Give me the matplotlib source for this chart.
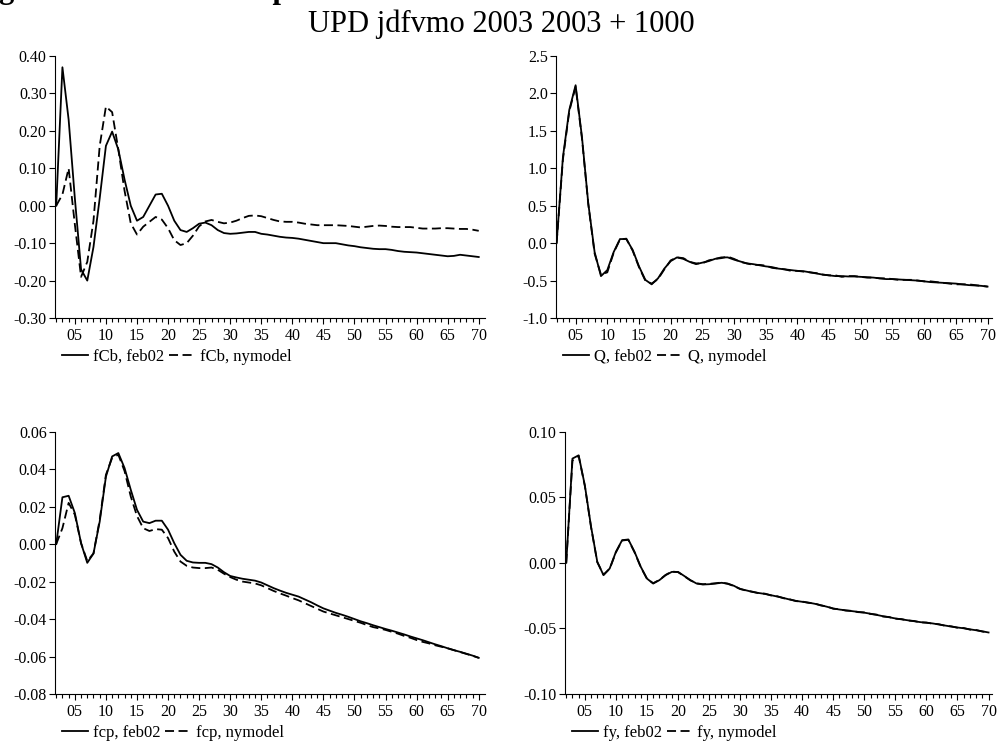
import matplotlib
matplotlib.use("Agg")
import matplotlib.pyplot as plt
from matplotlib.ticker import MultipleLocator, FixedLocator, FuncFormatter

plt.rcParams["font.family"] = ["Liberation Serif", "DejaVu Serif"]
plt.rcParams["axes.unicode_minus"] = False

periods = list(range(2, 71))

fcb_feb02 = [
    0.000, 0.370, 0.230, 0.020, -0.170, -0.200, -0.110, 0.020, 0.160, 0.198,
    0.150, 0.070, 0.000, -0.040, -0.030, 0.000, 0.030, 0.032, 0.000, -0.040,
    -0.065, -0.070, -0.060, -0.048, -0.045, -0.052, -0.065, -0.073, -0.075, -0.074,
    -0.072, -0.070, -0.070, -0.075, -0.077, -0.080, -0.083, -0.085, -0.086, -0.088,
    -0.091, -0.094, -0.097, -0.100, -0.100, -0.100, -0.103, -0.106, -0.108, -0.111,
    -0.113, -0.115, -0.116, -0.116, -0.118, -0.121, -0.123, -0.124, -0.125, -0.127,
    -0.129, -0.131, -0.133, -0.135, -0.134, -0.131, -0.133, -0.135, -0.137,
]
fcb_nymodel = [
    0.000, 0.030, 0.100, -0.050, -0.190, -0.150, -0.040, 0.160, 0.265, 0.250,
    0.150, 0.040, -0.047, -0.077, -0.056, -0.043, -0.030, -0.037, -0.060, -0.092,
    -0.105, -0.100, -0.080, -0.055, -0.042, -0.038, -0.043, -0.047, -0.045, -0.040,
    -0.033, -0.027, -0.026, -0.028, -0.033, -0.038, -0.042, -0.043, -0.043, -0.045,
    -0.048, -0.050, -0.052, -0.052, -0.052, -0.052, -0.053, -0.054, -0.056, -0.058,
    -0.056, -0.054, -0.053, -0.054, -0.056, -0.057, -0.057, -0.057, -0.059, -0.061,
    -0.061, -0.061, -0.060, -0.060, -0.061, -0.062, -0.062, -0.064, -0.067,
]

q_feb02 = [
    0.00, 1.15, 1.78, 2.11, 1.42, 0.53, -0.12, -0.44, -0.36, -0.12,
    0.055, 0.055, -0.09, -0.31, -0.49, -0.55, -0.47, -0.34, -0.24, -0.19,
    -0.21, -0.25, -0.28, -0.26, -0.24, -0.21, -0.19, -0.19, -0.22, -0.245,
    -0.27, -0.28, -0.295, -0.31, -0.32, -0.34, -0.35, -0.36, -0.37, -0.375,
    -0.39, -0.405, -0.42, -0.43, -0.44, -0.44, -0.445, -0.445, -0.45, -0.455,
    -0.46, -0.47, -0.48, -0.48, -0.485, -0.49, -0.495, -0.50, -0.51, -0.52,
    -0.525, -0.53, -0.535, -0.54, -0.55, -0.56, -0.565, -0.57, -0.58,
]
q_nymodel = [
    0.00, 1.12, 1.76, 2.09, 1.40, 0.52, -0.14, -0.42, -0.39, -0.13,
    0.050, 0.060, -0.10, -0.32, -0.50, -0.54, -0.48, -0.35, -0.23, -0.19,
    -0.20, -0.25, -0.27, -0.27, -0.23, -0.21, -0.20, -0.18, -0.21, -0.25,
    -0.27, -0.29, -0.29, -0.30, -0.33, -0.34, -0.35, -0.37, -0.37, -0.38,
    -0.39, -0.40, -0.42, -0.43, -0.43, -0.45, -0.44, -0.44, -0.45, -0.46,
    -0.46, -0.47, -0.47, -0.48, -0.49, -0.49, -0.49, -0.50, -0.51, -0.51,
    -0.52, -0.53, -0.54, -0.55, -0.55, -0.55, -0.56, -0.57, -0.58,
]

fcp_feb02 = [
    0.0000, 0.0250, 0.0258, 0.0166, 0.0005, -0.0100, -0.0050, 0.0120, 0.0360, 0.0468,
    0.0486, 0.0406, 0.0290, 0.0183, 0.0120, 0.0112, 0.0125, 0.0125, 0.0077, 0.0005,
    -0.0057, -0.0089, -0.0098, -0.0100, -0.0100, -0.0107, -0.0125, -0.0150, -0.0170, -0.0178,
    -0.0185, -0.0190, -0.0195, -0.0205, -0.0220, -0.0235, -0.0248, -0.0260, -0.0270, -0.0280,
    -0.0295, -0.0310, -0.0327, -0.0343, -0.0355, -0.0367, -0.0377, -0.0388, -0.0400, -0.0412,
    -0.0422, -0.0433, -0.0443, -0.0453, -0.0462, -0.0472, -0.0482, -0.0493, -0.0503, -0.0513,
    -0.0524, -0.0535, -0.0545, -0.0556, -0.0566, -0.0575, -0.0585, -0.0595, -0.0607,
]
fcp_nymodel = [
    0.0000, 0.0085, 0.0220, 0.0157, 0.0005, -0.0090, -0.0050, 0.0130, 0.0370, 0.0460,
    0.0477, 0.0390, 0.0254, 0.0150, 0.0085, 0.0070, 0.0080, 0.0077, 0.0032, -0.0040,
    -0.0093, -0.0116, -0.0125, -0.0128, -0.0128, -0.0125, -0.0137, -0.0158, -0.0176, -0.0190,
    -0.0200, -0.0205, -0.0210, -0.0220, -0.0235, -0.0250, -0.0263, -0.0275, -0.0288, -0.0300,
    -0.0315, -0.0330, -0.0345, -0.0360, -0.0370, -0.0380, -0.0390, -0.0400, -0.0410, -0.0420,
    -0.0432, -0.0443, -0.0450, -0.0458, -0.0468, -0.0478, -0.0490, -0.0500, -0.0512, -0.0522,
    -0.0530, -0.0540, -0.0548, -0.0556, -0.0566, -0.0576, -0.0586, -0.0596, -0.0607,
]

fy_feb02 = [
    0.0000, 0.0795, 0.0820, 0.0590, 0.0275, 0.0008, -0.0094, -0.0043, 0.0084, 0.0173,
    0.0178, 0.0084, -0.0030, -0.0120, -0.0158, -0.0132, -0.0094, -0.0069, -0.0069, -0.0100,
    -0.0132, -0.0158, -0.0165, -0.0163, -0.0158, -0.0152, -0.0158, -0.0175, -0.0200, -0.0210,
    -0.0222, -0.0230, -0.0237, -0.0247, -0.0257, -0.0268, -0.0280, -0.0290, -0.0297, -0.0303,
    -0.0312, -0.0323, -0.0335, -0.0348, -0.0356, -0.0362, -0.0368, -0.0374, -0.0380, -0.0388,
    -0.0397, -0.0407, -0.0415, -0.0424, -0.0431, -0.0438, -0.0445, -0.0452, -0.0457, -0.0462,
    -0.0470, -0.0478, -0.0486, -0.0493, -0.0499, -0.0507, -0.0514, -0.0522, -0.0531,
]
fy_nymodel = [
    0.0000, 0.0780, 0.0815, 0.0585, 0.0270, 0.0005, -0.0090, -0.0045, 0.0080, 0.0170,
    0.0176, 0.0080, -0.0033, -0.0122, -0.0155, -0.0130, -0.0092, -0.0066, -0.0071, -0.0102,
    -0.0134, -0.0156, -0.0163, -0.0160, -0.0156, -0.0150, -0.0160, -0.0177, -0.0198, -0.0212,
    -0.0220, -0.0232, -0.0235, -0.0249, -0.0255, -0.0270, -0.0278, -0.0292, -0.0295, -0.0305,
    -0.0310, -0.0325, -0.0333, -0.0350, -0.0354, -0.0364, -0.0366, -0.0376, -0.0378, -0.0390,
    -0.0395, -0.0409, -0.0413, -0.0426, -0.0429, -0.0440, -0.0443, -0.0454, -0.0455, -0.0464,
    -0.0468, -0.0480, -0.0484, -0.0495, -0.0497, -0.0509, -0.0512, -0.0524, -0.0531,
]

panels = [
    # (rect, xlim, ylim, ystep, yfmt, solid, dashed, name)
    ([0.0548, 0.5714, 0.4287, 0.3531], (1.8, 71.0), (-0.30, 0.40), 0.10, "{:.2f}",
     fcb_feb02, fcb_nymodel, "fCb"),
    ([0.5543, 0.5714, 0.4347, 0.3531], (1.9, 70.7), (-1.0, 2.5), 0.5, "{:.1f}",
     q_feb02, q_nymodel, "Q"),
    ([0.0548, 0.0647, 0.4287, 0.3535], (1.8, 71.0), (-0.08, 0.06), 0.02, "{:.2f}",
     fcp_feb02, fcp_nymodel, "fcp"),
    ([0.5633, 0.0647, 0.4257, 0.3535], (1.8, 70.55), (-0.10, 0.10), 0.05, "{:.2f}",
     fy_feb02, fy_nymodel, "fy"),
]

fig = plt.figure(figsize=(10.03, 7.42), dpi=100)

# heading line sits above the page edge, only its descenders show
fig.text(-0.028, 1.0027, "Figure 3: Simulated impulse", fontsize=22,
         fontweight="bold", ha="left", va="baseline")
fig.text(0.5, 0.957, "UPD jdfvmo 2003 2003 + 1000", fontsize=22,
         ha="center", va="baseline")

for rect, xlim, ylim, ystep, yfmt, solid, dashed, name in panels:
    ax = fig.add_axes(rect)
    ax.plot(periods, solid, color="black", lw=1.3, label=f"{name}, feb02")
    ax.plot(periods, dashed, color="black", lw=1.3, linestyle=(0, (5, 2.5)),
            label=f"{name}, nymodel")

    ax.set_xlim(*xlim)
    ax.set_ylim(*ylim)
    ax.spines["top"].set_visible(False)
    ax.spines["right"].set_visible(False)
    ax.spines["left"].set_bounds(*ylim)

    ax.xaxis.set_major_locator(FixedLocator(list(range(5, 71, 5))))
    ax.xaxis.set_minor_locator(FixedLocator(periods))
    ax.xaxis.set_major_formatter(FuncFormatter(lambda v, p: f"{int(round(v)):02d}"))
    ax.yaxis.set_major_locator(MultipleLocator(ystep))
    ax.yaxis.set_major_formatter(FuncFormatter(lambda v, p, f=yfmt: f.format(v)))

    ax.tick_params(axis="both", which="major", direction="out", length=4,
                   width=0.8, labelsize=11.5, pad=2)
    ax.tick_params(axis="x", which="minor", direction="out", length=3, width=0.8)
    ax.tick_params(axis="x", which="major", pad=3)

    ax.legend(loc="center left", bbox_to_anchor=(0.016, -0.148), ncol=2,
              frameon=False, fontsize=12, borderpad=0, borderaxespad=0,
              handlelength=1.55, handletextpad=0.3, columnspacing=0.3)

fig.savefig("out.png", dpi=100)
